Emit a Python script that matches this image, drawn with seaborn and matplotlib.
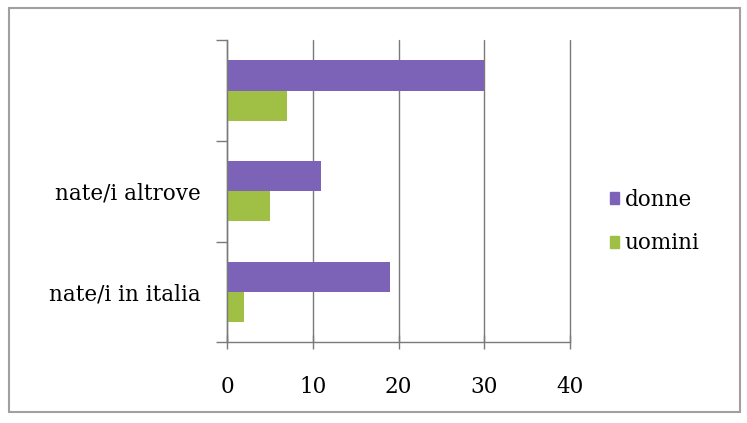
import pandas as pd
import seaborn as sns
import matplotlib.pyplot as plt
from matplotlib.patches import Rectangle

categories = ["", "nate/i altrove", "nate/i in italia"]
donne = [30, 11, 19]
uomini = [7, 5, 2]
groups = ["donne", "uomini"]

df = pd.DataFrame({
    "categoria": categories * 2,
    "valore": donne + uomini,
    "gruppo": ["donne"] * 3 + ["uomini"] * 3,
})

sns.set_style("white")
plt.rcParams["font.family"] = ["DejaVu Serif"]
plt.rcParams["text.color"] = "black"

fig = plt.figure(figsize=(7.47, 4.23), dpi=100)
ax = fig.add_axes([0.304, 0.191, 0.459, 0.714])

palette = {"donne": "#7d63b8", "uomini": "#a0bf45"}
sns.barplot(data=df, y="categoria", x="valore", hue="gruppo", hue_order=groups,
            order=categories, palette=palette, orient="h", width=0.6,
            saturation=1, linewidth=0, ax=ax, legend=False)

ax.set_xlim(0, 40)
ax.set_xticks([0, 10, 20, 30, 40])
ax.set_ylim(2.5, -0.5)
ax.grid(axis="x", color="#7a7a7a", linewidth=1)
ax.set_axisbelow(True)
for line in ax.get_xgridlines():
    line.set_clip_on(False)
ax.set_xlabel("")
ax.set_ylabel("")

for side in ["top", "right"]:
    ax.spines[side].set_visible(False)
for side in ["left", "bottom"]:
    ax.spines[side].set_color("#7a7a7a")
    ax.spines[side].set_linewidth(1)

ax.tick_params(axis="y", which="major", left=False, length=0, labelsize=15.5,
               labelcolor="black", pad=19)
ax.set_yticks([-0.5, 0.5, 1.5, 2.5], minor=True)
ax.tick_params(axis="y", which="minor", left=True, length=8, width=1,
               color="#7a7a7a", direction="out")
ax.tick_params(axis="x", which="major", bottom=True, length=10, width=1,
               color="#7a7a7a", direction="inout", labelsize=15.5,
               labelcolor="black", pad=19)

handles = [Rectangle((0, 0), 1, 1, color=palette[g]) for g in groups]
fig.legend(handles, groups, loc="center left", bbox_to_anchor=(0.79, 0.476),
           frameon=False, fontsize=15.5, handlelength=0.45, handleheight=0.45,
           handletextpad=0.25, labelspacing=1.0, labelcolor="black")

fig.patches.append(Rectangle((0.012, 0.025), 0.978, 0.955, transform=fig.transFigure,
                             fill=False, edgecolor="#a0a0a0", linewidth=1.5))

fig.savefig("out.png", dpi=100)
